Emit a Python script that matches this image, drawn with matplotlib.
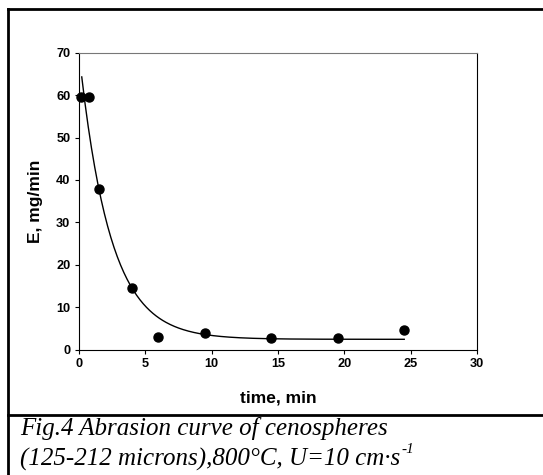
import numpy as np
import matplotlib
matplotlib.use("Agg")
import matplotlib.pyplot as plt
from matplotlib.lines import Line2D

# Data points
time_min = [0.2, 0.75, 1.5, 4.0, 6.0, 9.5, 14.5, 19.5, 24.5]
E_mg_min = [59.5, 59.6, 37.8, 14.6, 3.1, 4.0, 2.8, 2.7, 4.6]

# Fitted exponential decay curve parameters (E = y0 + a*exp(-k t))
fit_y0 = 2.45
fit_a = 68.3
fit_k = 0.432
fit_t_start = 0.23
fit_t_end = 24.5

x_ticks = [0, 5, 10, 15, 20, 25, 30]
y_ticks = [0, 10, 20, 30, 40, 50, 60, 70]

W, H = 543, 475
fig = plt.figure(figsize=(W / 100, H / 100), dpi=100)

ax = fig.add_axes([78.7 / W, 1 - 349.7 / H, (477.3 - 78.7) / W, (349.7 - 52.7) / H])

t_fit = np.linspace(fit_t_start, fit_t_end, 300)
E_fit = fit_y0 + fit_a * np.exp(-fit_k * t_fit)
ax.plot(t_fit, E_fit, color='black', lw=1.0)
ax.plot(time_min, E_mg_min, 'o', color='black', ms=6.5, zorder=3, clip_on=False)

ax.set_xlim(0, 30)
ax.set_ylim(0, 70)
ax.set_xticks(x_ticks)
ax.set_yticks(y_ticks)
tick_font = dict(family='Liberation Sans', weight='bold', size=9.2)
ax.set_xticklabels([str(v) for v in x_ticks], **tick_font)
ax.set_yticklabels([str(v) for v in y_ticks], **tick_font)
ax.tick_params(direction='out', length=3, width=0.8, pad=3, top=False, right=False)
for s in ax.spines.values():
    s.set_linewidth(0.8)
ax.spines['top'].set_color('#777777')

ax.set_xlabel('time, min', family='Liberation Sans', weight='bold', size=12.5, labelpad=15)
ax.set_ylabel('E, mg/min', family='Liberation Sans', weight='bold', size=12.5, labelpad=9)

# Outer frame lines
lw = 2.0
fig.add_artist(Line2D([7.5 / W, 7.5 / W], [0, 1 - 8.5 / H], color='black', lw=lw, transform=fig.transFigure))
fig.add_artist(Line2D([7.5 / W, 1], [1 - 8.5 / H, 1 - 8.5 / H], color='black', lw=lw, transform=fig.transFigure))
fig.add_artist(Line2D([7.5 / W, 1], [1 - 415 / H, 1 - 415 / H], color='black', lw=lw, transform=fig.transFigure))

cap = dict(family='Liberation Serif', style='italic', size=18, color='black')
fig.text(20 / W, 1 - 435.5 / H, 'Fig.4 Abrasion curve of cenospheres', ha='left', va='baseline', **cap)
t2 = fig.text(20 / W, 1 - 466 / H, '(125-212 microns),800°C, U=10 cm·s', ha='left', va='baseline', **cap)

fig.canvas.draw()
bb = t2.get_window_extent()
fig.text((bb.x1 + 1) / W, 1 - 453 / H, '-1', ha='left', va='baseline',
         family='Liberation Serif', style='italic', size=11, color='black')

fig.savefig('out.png', dpi=100)
